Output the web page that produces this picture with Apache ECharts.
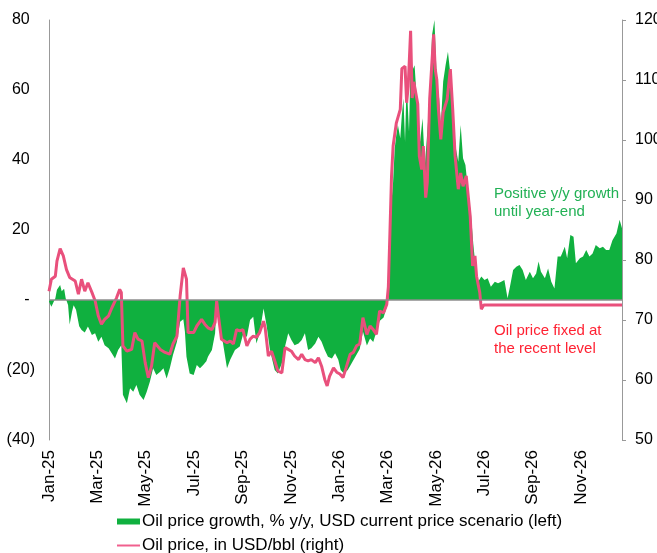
<!DOCTYPE html>
<html>
<head>
<meta charset="utf-8">
<script src="https://cdn.jsdelivr.net/npm/echarts@6/dist/echarts.min.js"></script>
<style>
html,body{margin:0;padding:0;background:#fff;}
#chart{width:657px;height:553px;}
</style>
</head>
<body>
<div id="chart"></div>
<script>
// Days since 1 Jan 2025
const growthDay = [0,3,5,8,10,14,16,19,21,24,26,29,31,34,38,41,45,49,54,58,62,66,70,75,79,83,87,91,93,98,102,106,110,114,119,123,127,131,135,140,144,148,152,156,161,165,169,171,173,177,182,186,190,194,198,200,205,209,211,213,215,219,224,228,234,240,244,249,253,257,261,265,270,274,278,284,288,293,297,301,305,309,314,318,322,326,330,335,339,343,347,351,356,360,364,367,371,376,381,386,391,395,400,404,408,412,416,421,425,427,429,431,433,435,437,439,442,444,446,448,450,453,455,458,460,464,467,470,473,476,479,482,485,488,491,493,496,499,502,506,509,512,515,518,521,524,527,531,534,537,540,544,548,552,556,561,565,569,573,577,580,584,588,592,596,600,605,609,613,616,619,624,628,632,636,640,644,649,652,656,660,663,668,672,676,680,684,688,693,697,701,705,709,714,718,721];
// Oil price growth, % y/y (left axis)
const growthPct = [-0.5,-1.9,-2.4,0.5,2.9,4.3,2.5,3.2,0.5,-1.4,-7.0,-3.3,-1.5,-2.8,-7.5,-8.6,-9.3,-7.6,-10,-9.5,-11.9,-10.5,-12.9,-13.8,-15.2,-16.7,-14.3,-12.9,-27.1,-29.5,-25.2,-26.2,-24.3,-27.1,-28.6,-26.2,-23.3,-19.5,-21.4,-20.5,-19.5,-22.4,-19.5,-15.7,-11.9,-6.2,-5.5,-9,-16.2,-21.0,-21.4,-18.6,-19.5,-18.6,-17.5,-16.2,-14.3,-9.5,-0.5,-4,-7.6,-12.4,-19.5,-17.1,-14.3,-13.3,-10,-10.5,-5.7,-4.8,-12.4,-9.5,-2.4,-7.6,-14.3,-20,-21,-18.1,-13.3,-9.5,-11.4,-12.9,-12.4,-11.4,-9.5,-14.3,-13.8,-12.4,-10.5,-11.9,-14.3,-16.2,-16.7,-15.2,-17.1,-20,-21,-20,-18,-16,-14,-9,-13,-11,-12,-9,-6,-5,-2,0,14.8,28.1,33.8,43.3,47.1,50,46.2,52.9,57.6,45.2,62.4,48.1,68,66,67.1,52.9,45.2,51.9,38.6,48.1,57.6,75.7,80,62.4,57.6,50,62.4,67.1,70.9,62.4,50.9,43.3,39.5,50,40.5,38.6,31.9,24.3,15.7,9.0,5.2,6.7,5.7,6.2,3.8,5.2,4.8,5.2,5.7,0.5,3.8,8.6,9.5,10,8.6,5.7,8.1,6.2,7.6,11,8.1,6.2,9,5.2,3.3,12.4,12.4,15.2,11.9,18.6,18.1,10.5,11.9,12.4,14.3,12.4,13.3,15.7,14.8,15.2,14.3,14.3,17.1,19,22.9,20.5];
const priceDay = [0,3,8,10,14,18,22,26,33,37,41,45,49,54,58,62,66,70,75,79,85,89,91,93,98,104,108,112,117,121,125,129,133,140,146,152,156,161,165,169,173,175,182,186,192,196,200,205,209,211,213,217,224,228,232,236,240,244,249,253,257,261,265,270,272,276,280,284,288,293,297,301,305,309,314,318,322,326,330,335,339,343,347,350,353,358,362,366,370,374,379,383,387,391,395,400,404,408,412,416,421,425,427,429,431,433,437,442,444,448,450,452,455,457,459,464,466,469,471,474,476,479,484,486,488,490,493,496,501,505,508,511,515,518,521,525,530,533,536,538,542,544,547,721];
// Oil price, USD/bbl (right axis)
const priceUsd = [74.8,76.8,77.3,79.8,81.9,80.7,78.4,77.1,76.5,74.3,76.8,74.8,76.2,74.6,73.2,70.7,69.3,70.1,70.7,72.0,73.7,75.1,74.6,65.7,64.8,65.1,67.9,66.8,66.5,62.9,60.4,62.3,66.2,65.1,64.6,64.3,66.0,67.3,74.0,78.7,76.8,67.9,67.9,69.0,70.1,69.3,68.7,68.4,69.6,73.2,70.9,66.8,66.2,66.5,66.0,68.4,68.2,68.4,65.7,66.8,67.3,67.1,67.9,69.8,68.7,64.0,64.8,63.2,61.5,61.2,65.4,65.1,64.8,64.0,63.4,64.3,63.4,63.2,63.4,62.9,63.7,62.3,60.1,59.0,60.6,62.0,61.3,61.0,60.4,62.1,64.3,64.6,65.7,66.0,70.4,67.6,69.0,68.4,67.6,71.5,71.2,72.6,75.5,84.6,94,99.0,102.8,105.1,111.9,112.3,106.2,109.0,118.2,107,109.7,106,97.3,95.1,99,90.4,92.9,106.8,117.6,111.8,110,105.1,100.1,104.6,106.8,111.8,105.1,97.3,91.8,94.5,92.3,94.0,87.3,79.0,80.7,77.3,74.6,71.8,72.5,72.5];
const monthNames = ['Jan','Feb','Mar','Apr','May','Jun','Jul','Aug','Sep','Oct','Nov','Dec'];
const seriesNames = ['Oil price growth, % y/y, USD current price scenario (left)', 'Oil price, in USD/bbl (right)'];
const noteGreen = 'Positive y/y growth\nuntil year-end';
const noteRed = 'Oil price fixed at\nthe recent level';

const FONT = '"Liberation Sans", Arial, sans-serif';
const GREEN = '#10b03f';
const PINK = '#e9507c';
const DAY0 = Date.UTC(2025, 0, 1);

const chart = echarts.init(document.getElementById('chart'), null, {renderer: 'canvas'});
chart.setOption({
  animation: false,
  backgroundColor: '#fff',
  textStyle: {fontFamily: FONT},
  grid: {left: 49, right: 35, top: 20, bottom: 113, containLabel: false, outerBoundsMode: 'none'},
  xAxis: {
    type: 'value', min: 0, max: 721, interval: 730.5 / 12,
    axisLine: {show: false}, axisTick: {show: false}, splitLine: {show: false},
    axisLabel: {
      rotate: 90, margin: 10, fontSize: 17, color: '#000', fontFamily: FONT,
      showMaxLabel: false,
      formatter: function (v) {
        const d = new Date(DAY0 + Math.round(v) * 86400000);
        return monthNames[d.getUTCMonth()] + '-' + String(d.getUTCFullYear()).slice(2);
      }
    }
  },
  yAxis: [{
    type: 'value', min: -40, max: 80, interval: 20, position: 'left',
    axisLine: {show: true, onZero: false, lineStyle: {color: '#999', width: 1}},
    axisTick: {show: false}, splitLine: {show: false},
    axisLabel: {
      margin: 14, fontSize: 16, color: '#000', fontFamily: FONT,
      formatter: function (v) {
        if (v < 0) return '(' + (-v) + ')';
        return '{a|' + (v === 0 ? '-' : v) + '}{h|)}';
      },
      rich: {
        a: {fontSize: 16, color: '#000', fontFamily: FONT},
        h: {fontSize: 16, color: 'rgba(0,0,0,0)', fontFamily: FONT}
      }
    }
  }, {
    type: 'value', min: 50, max: 120, interval: 10, position: 'right',
    axisLine: {show: true, onZero: false, lineStyle: {color: '#999', width: 1}},
    axisTick: {show: true, inside: false, length: 4, lineStyle: {color: '#999'}},
    splitLine: {show: false},
    axisLabel: {margin: 13, fontSize: 16, color: '#000', fontFamily: FONT}
  }],
  legend: [{
    data: [seriesNames[0]], left: 112, top: 508, orient: 'vertical',
    itemWidth: 23, itemHeight: 6, icon: 'rect',
    textStyle: {fontSize: 17, color: '#000', fontFamily: FONT, padding: [0, 0, 0, -3]}
  }, {
    data: [seriesNames[1]], left: 112, top: 532, orient: 'vertical',
    itemWidth: 23, itemHeight: 2, icon: 'rect',
    itemStyle: {color: '#f0608e'},
    textStyle: {fontSize: 17, color: '#000', fontFamily: FONT, padding: [0, 0, 0, -3]}
  }],
  series: [{
    name: seriesNames[0], type: 'line', yAxisIndex: 0,
    data: growthDay.map((d, i) => [d, growthPct[i]]),
    symbol: 'none', lineStyle: {width: 0}, itemStyle: {color: GREEN},
    areaStyle: {color: GREEN, opacity: 1},
    markLine: {
      silent: true, symbol: 'none', label: {show: false},
      lineStyle: {color: '#8c8c8c', width: 1.5, type: 'solid'},
      data: [{yAxis: 0}]
    },
    z: 2
  }, {
    name: seriesNames[1], type: 'line', yAxisIndex: 1,
    data: priceDay.map((d, i) => [d, priceUsd[i]]),
    symbol: 'none', lineStyle: {width: 3, color: PINK}, itemStyle: {color: PINK},
    z: 3
  }],
  graphic: [{
    type: 'text', left: 494, top: 185,
    style: {text: noteGreen, font: '15px ' + FONT, fill: '#22b155', lineHeight: 18}
  }, {
    type: 'text', left: 494, top: 322,
    style: {text: noteRed, font: '15px ' + FONT, fill: '#ff2233', lineHeight: 18}
  }]
});
</script>
</body>
</html>
